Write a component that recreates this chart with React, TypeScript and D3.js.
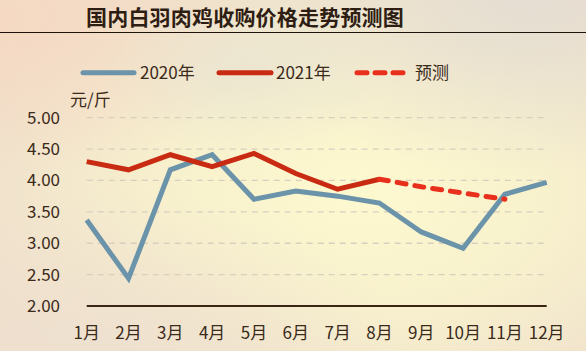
import React from "react";
import * as d3 from "d3";

const title = "国内白羽肉鸡收购价格走势预测图";
const months = ["1月", "2月", "3月", "4月", "5月", "6月", "7月", "8月", "9月", "10月", "11月", "12月"];
const values2020 = [3.37, 2.44, 4.17, 4.41, 3.70, 3.83, 3.75, 3.64, 3.18, 2.92, 3.78, 3.97];
const values2021 = [4.30, 4.17, 4.41, 4.22, 4.43, 4.11, 3.86, 4.02];
const forecastMonths = ["8月", "9月", "10月", "11月"];
const forecastValues = [4.02, 3.90, 3.80, 3.70];
const yTicks = [2.0, 2.5, 3.0, 3.5, 4.0, 4.5, 5.0];
const legendLabels = ["2020年", "2021年", "预测"];
const unitLabel = "元/斤";

const W = 586;
const H = 351;
const FONT = "'Noto Sans CJK SC', 'Noto Sans', sans-serif";

export default function App() {
  const x = d3.scalePoint<string>().domain(months).range([86.7, 546.7]);
  const y = d3.scaleLinear().domain([2, 5]).range([306, 117.7]);
  const line = d3
    .line<[string, number]>()
    .x((d) => x(d[0]) as number)
    .y((d) => y(d[1]));

  const d2020 = line(months.map((m, i) => [m, values2020[i]]));
  const d2021 = line(values2021.map((v, i) => [months[i], v]));
  const dFc = line(forecastMonths.map((m, i) => [m, forecastValues[i]]));

  const c2020 = "#6b93a9";
  const c2021 = "#c92a12";
  const cFc = "#e8301c";
  const textColor = "#3a2a1a";

  return (
    <svg
      width={W}
      height={H}
      style={{ position: "absolute", left: 0, top: 0, display: "block" }}
    >
      <defs>
        <radialGradient id="bgMain" cx="0.62" cy="0.55" r="0.7">
          <stop offset="0" stopColor="#fdf9cf" />
          <stop offset="0.45" stopColor="#f8f1cd" />
          <stop offset="1" stopColor="#efdfcc" />
        </radialGradient>
        <radialGradient id="bgPeach" cx="0.0" cy="0.05" r="0.45">
          <stop offset="0" stopColor="#f6d9c2" stopOpacity="0.95" />
          <stop offset="1" stopColor="#f6d9c2" stopOpacity="0" />
        </radialGradient>
        <radialGradient id="bgGrey" cx="0.9" cy="0.0" r="0.5">
          <stop offset="0" stopColor="#e4ddd2" stopOpacity="0.95" />
          <stop offset="1" stopColor="#e4ddd2" stopOpacity="0" />
        </radialGradient>
        <radialGradient id="bgGrey2" cx="0.42" cy="0.2" r="0.25">
          <stop offset="0" stopColor="#e7e3d3" stopOpacity="0.7" />
          <stop offset="1" stopColor="#e7e3d3" stopOpacity="0" />
        </radialGradient>
        <radialGradient id="bgBottom" cx="0.2" cy="1.05" r="0.5">
          <stop offset="0" stopColor="#eee0d0" stopOpacity="0.9" />
          <stop offset="1" stopColor="#eee0d0" stopOpacity="0" />
        </radialGradient>
      </defs>
      <rect width={W} height={H} fill="url(#bgMain)" />
      <rect width={W} height={H} fill="url(#bgPeach)" />
      <rect width={W} height={H} fill="url(#bgGrey)" />
      <rect width={W} height={H} fill="url(#bgGrey2)" />
      <rect width={W} height={H} fill="url(#bgBottom)" />

      {/* Title */}
      <text
        x={245}
        y={25}
        textAnchor="middle"
        fontFamily={FONT}
        fontSize={21}
        fontWeight={700}
        fill="#2e1d12"
        letterSpacing={0.2}
      >
        {title}
      </text>
      <line x1={0} x2={W} y1={32.5} y2={32.5} stroke="#1e140c" strokeWidth={1.2} />

      {/* Legend */}
      <g fontFamily={FONT} fontSize={17} fill={textColor}>
        <line x1={83} x2={134} y1={72.7} y2={72.7} stroke={c2020} strokeWidth={5} strokeLinecap="round" />
        <text x={140} y={79}>{legendLabels[0]}</text>
        <line x1={219} x2={271} y1={72.7} y2={72.7} stroke={c2021} strokeWidth={5} strokeLinecap="round" />
        <text x={276} y={79}>{legendLabels[1]}</text>
        <line
          x1={357}
          x2={403}
          y1={72.7}
          y2={72.7}
          stroke={cFc}
          strokeWidth={5}
          strokeLinecap="round"
          strokeDasharray="10 8"
        />
        <text x={415} y={79}>{legendLabels[2]}</text>
      </g>

      {/* Unit */}
      <text x={70} y={106} fontFamily={FONT} fontSize={17} fill={textColor}>
        {unitLabel}
      </text>

      {/* Gridlines */}
      {yTicks
        .filter((t) => t > 2)
        .map((t) => (
          <line
            key={t}
            x1={86.7}
            x2={546.7}
            y1={y(t)}
            y2={y(t)}
            stroke="#d8d0bf"
            strokeWidth={1.3}
            strokeDasharray="6 5"
          />
        ))}
      <line x1={86.7} x2={546.7} y1={y(2)} y2={y(2)} stroke="#3b2614" strokeWidth={1.8} />

      {/* Y tick labels */}
      <g fontFamily={FONT} fontSize={17} fill={textColor} textAnchor="end">
        {yTicks.map((t) => (
          <text key={t} x={60} y={y(t) + 6}>
            {t.toFixed(2)}
          </text>
        ))}
      </g>

      {/* X tick labels */}
      <g fontFamily={FONT} fontSize={17} fill={textColor} textAnchor="middle">
        {months.map((m) => (
          <text key={m} x={x(m) as number} y={339}>
            {m}
          </text>
        ))}
      </g>

      {/* Lines */}
      <path d={d2020 || ""} fill="none" stroke={c2020} strokeWidth={5} strokeLinejoin="miter" />
      <path d={d2021 || ""} fill="none" stroke={c2021} strokeWidth={5} strokeLinejoin="miter" />
      <path
        d={dFc || ""}
        fill="none"
        stroke={cFc}
        strokeWidth={5}
        strokeLinecap="round"
        strokeDasharray="9 9"
      />
    </svg>
  );
}
